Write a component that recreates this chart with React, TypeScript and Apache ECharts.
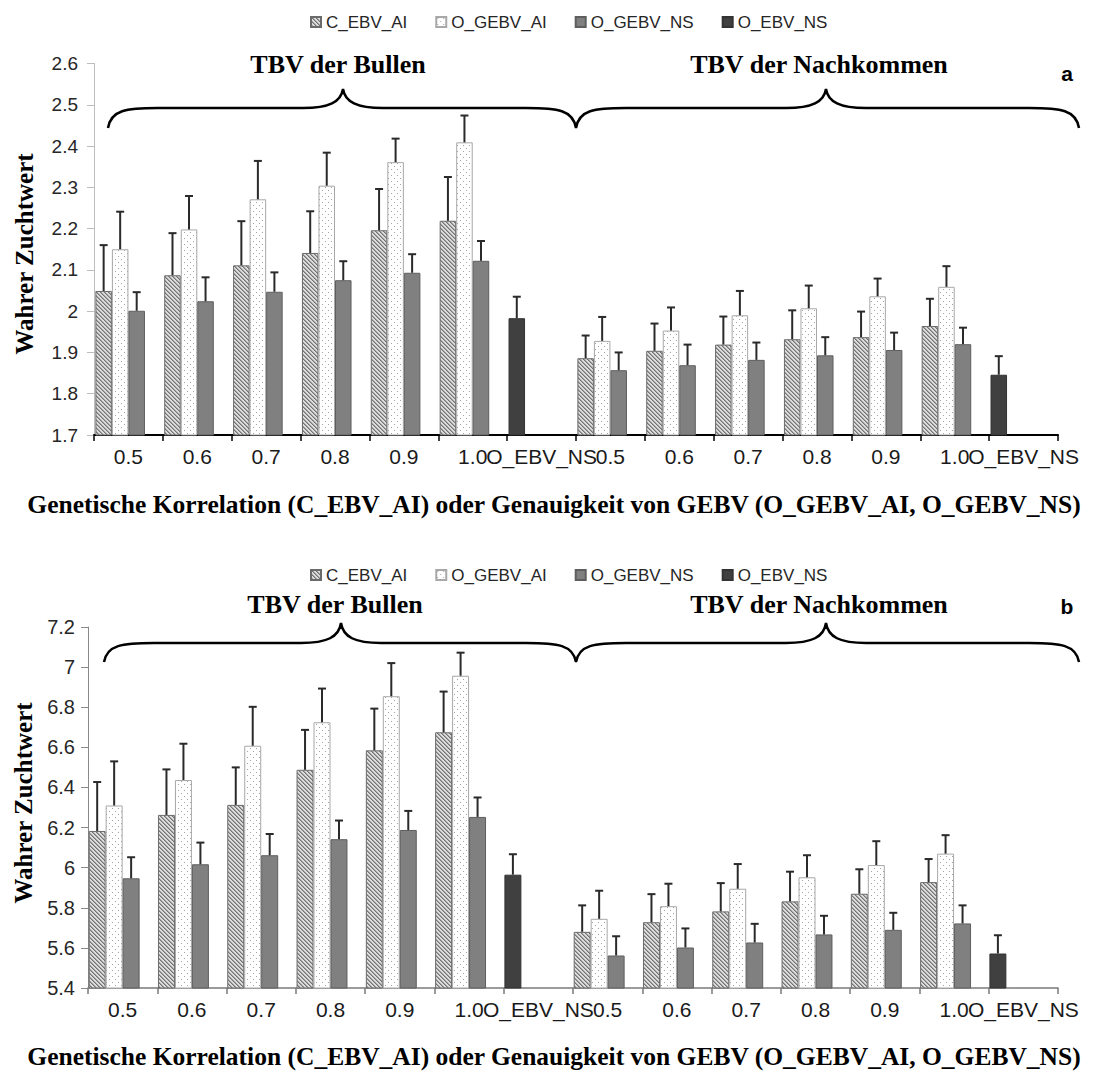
import React, { useEffect, useRef } from 'react';
import * as echarts from 'echarts';

// ---------------- data ----------------
const categories = ['0.5', '0.6', '0.7', '0.8', '0.9', '1.0', 'O_EBV_NS', '0.5', '0.6', '0.7', '0.8', '0.9', '1.0', 'O_EBV_NS'];
const seriesNames = ['C_EBV_AI', 'O_GEBV_AI', 'O_GEBV_NS', 'O_EBV_NS'];
const groupLabels = ['TBV der Bullen', 'TBV der Nachkommen'];
const yTitle = 'Wahrer Zuchtwert';
const xTitle = 'Genetische Korrelation (C_EBV_AI) oder Genauigkeit von GEBV (O_GEBV_AI, O_GEBV_NS)';
const panelLetters = ['a', 'b'];

// panel a axis
const aMin = 1.7, aMax = 2.6, aStep = 0.1;
// panel b axis
const bMin = 5.4, bMax = 7.2, bStep = 0.2;

const N = null;
// panel a values and error bar lengths
const aC = [2.049, 2.087, 2.111, 2.141, 2.196, 2.219, N, 1.886, 1.904, 1.919, 1.932, 1.937, 1.964, N];
const aCErr = [0.111, 0.102, 0.107, 0.101, 0.100, 0.106, N, 0.055, 0.066, 0.068, 0.070, 0.062, 0.066, N];
const aAI = [2.150, 2.198, 2.271, 2.304, 2.361, 2.409, N, 1.928, 1.953, 1.990, 2.007, 2.036, 2.059, N];
const aAIErr = [0.091, 0.081, 0.093, 0.080, 0.057, 0.065, N, 0.058, 0.056, 0.059, 0.055, 0.043, 0.050, N];
const aNS = [2.001, 2.024, 2.047, 2.075, 2.093, 2.122, N, 1.857, 1.869, 1.882, 1.893, 1.906, 1.920, N];
const aNSErr = [0.045, 0.058, 0.047, 0.046, 0.045, 0.048, N, 0.043, 0.050, 0.042, 0.044, 0.042, 0.040, N];
const aEBV = [N, N, N, N, N, N, 1.983, N, N, N, N, N, N, 1.846];
const aEBVErr = [N, N, N, N, N, N, 0.052, N, N, N, N, N, N, 0.045];

// panel b values and error bar lengths
const bC = [6.183, 6.263, 6.313, 6.488, 6.585, 6.675, N, 5.680, 5.728, 5.782, 5.832, 5.870, 5.928, N];
const bCErr = [0.244, 0.227, 0.187, 0.199, 0.208, 0.203, N, 0.132, 0.140, 0.141, 0.148, 0.122, 0.115, N];
const bAI = [6.310, 6.437, 6.608, 6.725, 6.855, 6.957, N, 5.745, 5.808, 5.895, 5.952, 6.013, 6.070, N];
const bAIErr = [0.220, 0.181, 0.194, 0.168, 0.165, 0.115, N, 0.140, 0.112, 0.123, 0.110, 0.119, 0.092, N];
const bNS = [5.947, 6.017, 6.062, 6.142, 6.188, 6.253, N, 5.562, 5.602, 5.627, 5.667, 5.690, 5.722, N];
const bNSErr = [0.105, 0.108, 0.106, 0.093, 0.095, 0.097, N, 0.096, 0.095, 0.093, 0.093, 0.085, 0.090, N];
const bEBV = [N, N, N, N, N, N, 5.965, N, N, N, N, N, N, 5.572];
const bEBVErr = [N, N, N, N, N, N, 0.102, N, N, N, N, N, N, 0.091];

// ---------------- helpers ----------------
const SANS = '"Liberation Sans", Arial, sans-serif';
const SERIF = '"Liberation Serif", "Times New Roman", serif';

function makePattern(w: number, h: number, bg: string, pixels: [number, number, string][]) {
  const c = document.createElement('canvas');
  c.width = w;
  c.height = h;
  const ctx = c.getContext('2d')!;
  ctx.fillStyle = bg;
  ctx.fillRect(0, 0, w, h);
  for (const [x, y, col] of pixels) {
    ctx.fillStyle = col;
    ctx.fillRect(x, y, 1, 1);
  }
  return { image: c.toDataURL(), repeat: 'repeat', imageWidth: w, imageHeight: h } as any;
}

function bracePath(x1: number, xm: number, x2: number, yEnd: number, yLine: number, yTip: number) {
  return [
    `M${x1},${yEnd}`,
    `C${x1 + 3},${yLine + 2} ${x1 + 18},${yLine} ${x1 + 50},${yLine}`,
    `L${xm - 40},${yLine}`,
    `C${xm - 14},${yLine} ${xm - 2},${yLine - 6} ${xm},${yTip}`,
    `C${xm + 2},${yLine - 6} ${xm + 14},${yLine} ${xm + 40},${yLine}`,
    `L${x2 - 50},${yLine}`,
    `C${x2 - 18},${yLine} ${x2 - 3},${yLine + 2} ${x2},${yEnd}`,
  ].join(' ');
}

let registered = false;
function registerBraces() {
  if (registered) return;
  registered = true;
  const dA = bracePath(108, 343, 576, 128, 108, 89) + ' ' + bracePath(576, 826, 1079, 128, 108, 89);
  const dB = bracePath(104, 341, 576, 662, 643, 623) + ' ' + bracePath(576, 826, 1079, 662, 643, 623);
  echarts.graphic.registerShape('braceA', echarts.graphic.extendPath(dA, {}));
  echarts.graphic.registerShape('braceB', echarts.graphic.extendPath(dB, {}));
}

export default function App() {
  const ref = useRef<HTMLDivElement>(null);

  useEffect(() => {
    if (!ref.current) return;
    registerBraces();
    const chart = echarts.init(ref.current, undefined, { renderer: 'svg' });

    const pixHatch: [number, number, string][] = [];
    for (let i = 0; i < 4; i++) {
      pixHatch.push([i, i, '#747474']);
      pixHatch.push([(i + 1) % 4, i, '#a4a4a4']);
    }
    const hatch = makePattern(4, 4, '#dcdcdc', pixHatch);
    const dots = makePattern(6, 6, '#ffffff', [[1, 1, '#a3a3a3'], [4, 4, '#a3a3a3']]);

    const styles = [
      { color: hatch, borderColor: '#6b6b6b', borderWidth: 1 },
      { color: dots, borderColor: '#a8a8a8', borderWidth: 1 },
      { color: '#808080', borderColor: '#5e5e5e', borderWidth: 1 },
      { color: '#404040', borderColor: '#333333', borderWidth: 1 },
    ];

    const panels = [
      { vals: [aC, aAI, aNS], errs: [aCErr, aAIErr, aNSErr], ebv: aEBV, ebvErr: aEBVErr, gap: '4%', gapRatio: 0.04 },
      { vals: [bC, bAI, bNS], errs: [bCErr, bAIErr, bNSErr], ebv: bEBV, ebvErr: bEBVErr, gap: '2%', gapRatio: 0.02 },
    ];

    const series: any[] = [];
    panels.forEach((p, pi) => {
      // three bar series + the O_EBV_NS series (its bars share the first slot)
      for (let k = 0; k < 4; k++) {
        let data: any[];
        if (k === 0) {
          data = categories.map((_, i) =>
            p.vals[0][i] != null ? p.vals[0][i] : p.ebv[i] != null ? { value: p.ebv[i], itemStyle: styles[3] } : '-'
          );
        } else if (k < 3) {
          data = categories.map((_, i) => (p.vals[k][i] != null ? p.vals[k][i] : '-'));
        } else {
          data = categories.map(() => '-');
        }
        series.push({
          type: 'bar',
          name: seriesNames[k],
          xAxisIndex: pi,
          yAxisIndex: pi,
          data,
          barGap: '0%',
          barCategoryGap: p.gap,
          itemStyle: styles[k],
          z: 2,
        });
      }
      const errData: any[] = [];
      for (let k = 0; k < 3; k++) {
        categories.forEach((_, i) => {
          if (p.vals[k][i] != null) errData.push([i, p.vals[k][i], p.errs[k][i], k]);
        });
      }
      categories.forEach((_, i) => {
        if (p.ebv[i] != null) errData.push([i, p.ebv[i], p.ebvErr[i], 0]);
      });
      const ratio = p.gapRatio;
      series.push({
        type: 'custom',
        name: 'err' + pi,
        xAxisIndex: pi,
        yAxisIndex: pi,
        z: 5,
        silent: true,
        data: errData,
        renderItem: (params: any, api: any) => {
          const idx = api.value(0);
          const v = api.value(1);
          const e = api.value(2);
          const slot = api.value(3);
          const band = api.size([1, 0])[0];
          const g = band * ratio;
          const bw = (band - g) / 4;
          const c = api.coord([idx, v]);
          const t = api.coord([idx, v + e]);
          const x = c[0] - band / 2 + g / 2 + bw * (slot + 0.5);
          const st = { stroke: '#2a2a2a', lineWidth: 2 };
          return {
            type: 'group',
            children: [
              { type: 'line', shape: { x1: x, y1: c[1], x2: x, y2: t[1] }, style: st },
              { type: 'line', shape: { x1: x - 4, y1: t[1], x2: x + 4, y2: t[1] }, style: st },
            ],
          };
        },
      });
    });

    const fmt = (v: number) => String(Math.round(v * 10) / 10);

    const yAxisCommon = (min: number, max: number, step: number, gi: number, color: string, margin: number, fs: number) => ({
      type: 'value',
      gridIndex: gi,
      min,
      max,
      interval: step,
      splitLine: { show: false },
      axisLine: { show: true, lineStyle: { color, width: 1 } },
      axisTick: { show: true, length: 7, inside: false, lineStyle: { color } },
      axisLabel: { fontSize: fs, color: '#262626', fontFamily: SANS, margin, formatter: fmt },
    });

    const xAxisCommon = (gi: number, color: string, width: number) => ({
      type: 'category',
      gridIndex: gi,
      data: categories,
      axisLine: { show: true, lineStyle: { color, width } },
      axisTick: { show: true, length: 6, interval: 0, lineStyle: { color, width: 1.5 } },
      axisLabel: { interval: 0, fontSize: 21, color: '#1a1a1a', fontFamily: SANS, margin: 11 },
    });

    const legendCommon = (top: number) => ({
      top,
      left: 310,
      padding: 0,
      itemGap: 28,
      itemWidth: 10,
      itemHeight: 10,
      icon: 'rect',
      selectedMode: false,
      data: seriesNames,
      textStyle: { fontSize: 17, color: '#262626', fontFamily: SANS },
    });

    const titleText = (x: number, y: number, text: string, font: string, rotation = 0) => ({
      type: 'text',
      x,
      y,
      rotation,
      style: {
        text,
        font,
        fill: '#000',
        textAlign: 'center',
        textVerticalAlign: 'middle',
        align: 'center',
        verticalAlign: 'middle',
      },
    });

    const bold26 = `bold 26px ${SERIF}`;
    const boldY = `bold 25px ${SERIF}`;
    const boldX = `bold 25.5px ${SERIF}`;
    const letterFont = `bold 21px ${SANS}`;

    chart.setOption({
      animation: false,
      backgroundColor: '#ffffff',
      grid: [
        { left: 94, right: 1096 - 1058, top: 63.5, height: 371.5 },
        { left: 88, right: 1096 - 1058, top: 627, height: 361 },
      ],
      legend: [legendCommon(13.5), legendCommon(566.5)],
      xAxis: [xAxisCommon(0, '#000000', 2), xAxisCommon(1, '#7a7a7a', 1.5)],
      yAxis: [
        yAxisCommon(aMin, aMax, aStep, 0, '#bdbdbd', 16, 19),
        yAxisCommon(bMin, bMax, bStep, 1, '#8a8a8a', 13, 20),
      ],
      series,
      graphic: [
        { type: 'braceA', x: 0, y: 0, silent: true, style: { fill: 'none', stroke: '#000', lineWidth: 2.5 } },
        { type: 'braceB', x: 0, y: 0, silent: true, style: { fill: 'none', stroke: '#000', lineWidth: 2.5 } },
        titleText(338, 64, groupLabels[0], bold26),
        titleText(819, 64, groupLabels[1], bold26),
        titleText(335, 604, groupLabels[0], bold26),
        titleText(819, 604, groupLabels[1], bold26),
        titleText(1067, 73, panelLetters[0], letterFont),
        titleText(1067, 606, panelLetters[1], letterFont),
        titleText(24, 254, yTitle, boldY, Math.PI / 2),
        titleText(23, 803, yTitle, boldY, Math.PI / 2),
        titleText(554, 504, xTitle, boldX),
        titleText(554, 1056, xTitle, boldX),
      ],
    });

    return () => chart.dispose();
  }, []);

  return <div ref={ref} style={{ position: 'absolute', left: 0, top: 0, width: 1096, height: 1072 }} />;
}
